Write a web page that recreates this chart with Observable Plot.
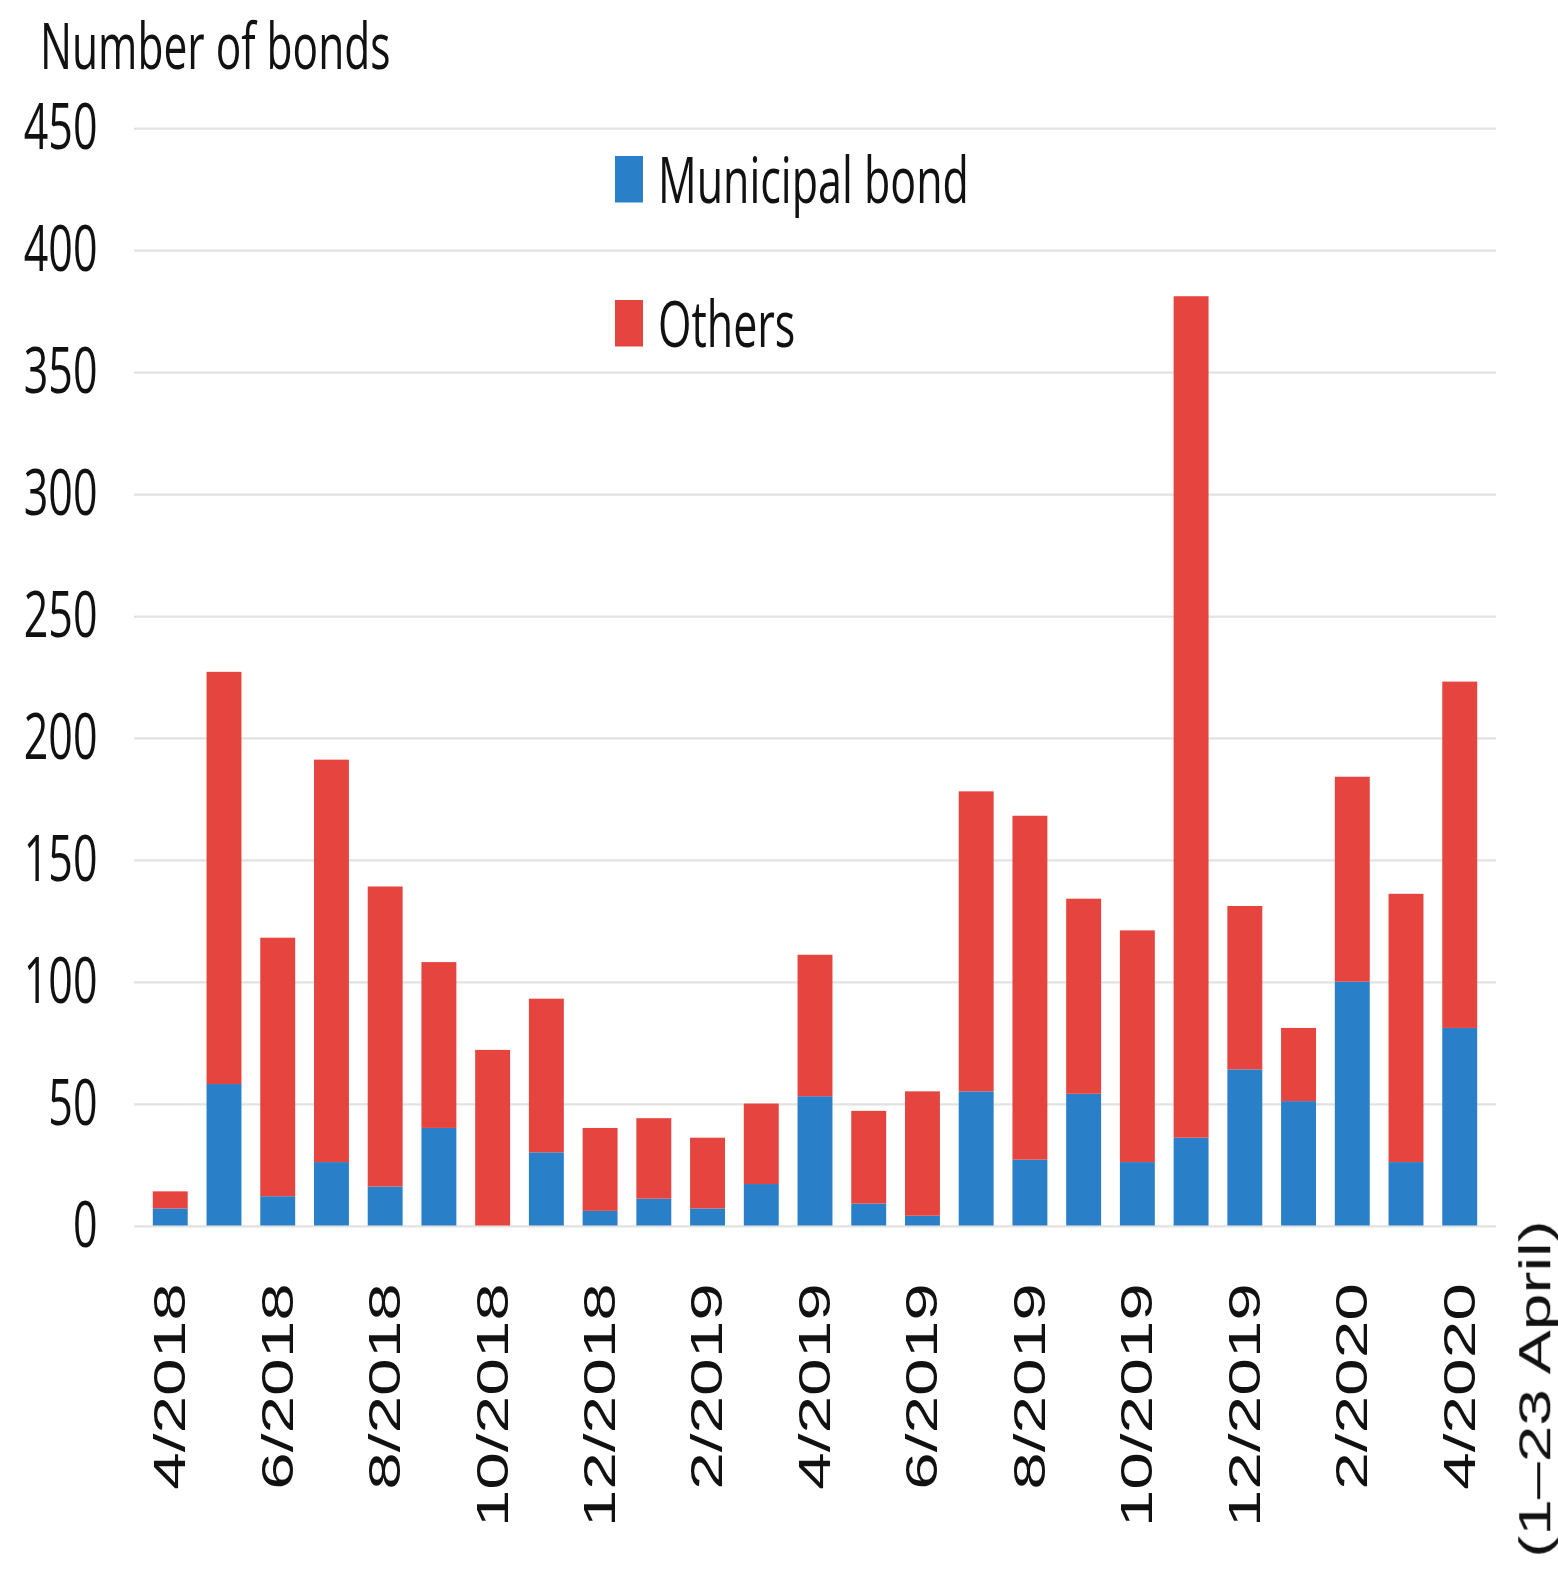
<!DOCTYPE html>
<html>
<head>
<meta charset="utf-8">
<script src="https://cdn.jsdelivr.net/npm/d3@7"></script>
<script src="https://cdn.jsdelivr.net/npm/@observablehq/plot@0.6"></script>
<style>
  html, body { margin: 0; padding: 0; background: #fff; }
  #outer { position: relative; width: 1558px; height: 1570px; }
  #wrap { position: absolute; left: 0; top: 0; width: 1558px; height: 1046.67px; transform: scaleY(1.5); transform-origin: 0 0; }
  #title { position: absolute; left: 40px; top: 9px; font: 42.5px/42px "Open Sans", sans-serif; color: #111; white-space: nowrap; }
  #chart { position: absolute; left: 0; top: 60px; }
  .leg { position: absolute; left: 615px; font: 43px/42px "Open Sans", sans-serif; color: #111; white-space: nowrap; display: flex; align-items: center; }
  .leg span.sw { display: inline-block; width: 28px; height: 31px; margin-right: 15px; }
</style>
</head>
<body>
<div id="outer">
<div id="wrap">
  <div id="title"></div>
  <div id="chart"></div>
  <div id="legend"></div>
</div>
</div>
<script>
const months = ["4/2018","5/2018","6/2018","7/2018","8/2018","9/2018","10/2018","11/2018","12/2018",
  "1/2019","2/2019","3/2019","4/2019","5/2019","6/2019","7/2019","8/2019","9/2019","10/2019","11/2019","12/2019",
  "1/2020","2/2020","3/2020","4/2020"];
const municipal = [7,58,12,26,16,40,0,30,6,11,7,17,53,9,4,55,27,54,26,36,64,51,100,26,81];
const others    = [7,169,106,165,123,68,72,63,34,33,29,33,58,38,51,123,141,80,95,345,67,30,84,110,142];
const seriesNames = ["Municipal bond", "Others"];
const seriesColors = ["#2a80c8", "#e6443f"];
const yTicks = [0,50,100,150,200,250,300,350,400,450];
const titleText = "Number of bonds";
const aprilNote = "(1–23 April)";

const data = months.flatMap((m, i) => [
  {month: m, type: seriesNames[0], value: municipal[i]},
  {month: m, type: seriesNames[1], value: others[i]}
]);

document.getElementById("title").textContent = titleText;

const chart = Plot.plot({
  width: 1558,
  height: 986,
  marginLeft: 134,
  marginRight: 62,
  marginTop: 25.3,
  marginBottom: 229,
  style: {background: "white", overflow: "visible"},
  x: {domain: months, padding: 0.35, round: false},
  y: {domain: [0, 450]},
  color: {domain: seriesNames, range: seriesColors},
  marks: [
    Plot.gridY(yTicks, {stroke: "#e2e2e2", strokeOpacity: 1, strokeWidth: 1.5}),
    Plot.barY(data, {x: "month", y: "value", fill: "type"}),
    Plot.axisY(yTicks, {tickSize: 0, tickPadding: 37, fontSize: 43, fontFamily: "Open Sans", fill: "#111", label: null}),
    Plot.axisX({tickSize: 0, tickRotate: -90, tickPadding: 38, fontSize: 45, fontFamily: "Liberation Sans", fill: "#111", label: null,
      tickFormat: d => months.indexOf(d) % 2 === 0 ? d : ""}),
    Plot.text([aprilNote], {x: () => months[months.length - 1], y: () => 0, text: d => d, rotate: -90, textAnchor: "end",
      dx: 76, dy: -4, fontSize: 44, fontFamily: "Liberation Sans", fill: "#111"})
  ]
});
document.getElementById("chart").appendChild(chart);

const legend = document.getElementById("legend");
const legTops = [98, 194];
seriesNames.forEach((name, i) => {
  const row = document.createElement("div");
  row.className = "leg";
  row.style.top = legTops[i] + "px";
  const sw = document.createElement("span");
  sw.className = "sw";
  sw.style.background = seriesColors[i];
  row.appendChild(sw);
  row.appendChild(document.createTextNode(name));
  legend.appendChild(row);
});
</script>
</body>
</html>
